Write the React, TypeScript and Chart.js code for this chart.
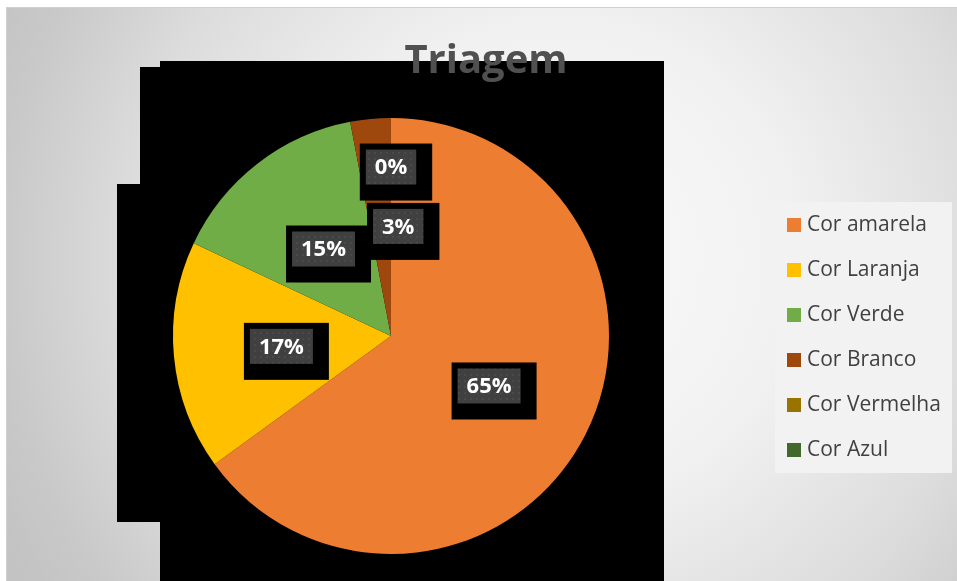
import React, { useEffect, useRef } from "react";
import { Chart, registerables } from "chart.js";

Chart.register(...registerables);

const chartTitle = "Triagem";
const categories = ["Cor amarela", "Cor Laranja", "Cor Verde", "Cor Branco", "Cor Vermelha", "Cor Azul"];
const shares = [65, 17, 15, 3, 0, 0];
const sliceColors = ["#ED7D31", "#FFC000", "#70AD47", "#9E480E", "#997300", "#43682B"];

// decorative black shadow artifact behind the plot (outline in canvas px)
const shadowOutline: [number, number][] = [
  [160, 61], [664, 61], [664, 581], [160, 581], [160, 522], [117, 522],
  [117, 184], [140, 184], [140, 67], [160, 67],
];

const FONT = '"Open Sans", "DejaVu Sans", sans-serif';

function makeDotPattern(ctx: CanvasRenderingContext2D) {
  const c = document.createElement("canvas");
  c.width = 6;
  c.height = 6;
  const p = c.getContext("2d")!;
  p.fillStyle = "#404040";
  p.fillRect(0, 0, 6, 6);
  p.fillStyle = "#4a4a4a";
  p.fillRect(2, 2, 2, 2);
  return ctx.createPattern(c, "repeat") || "#404040";
}

const backdropPlugin = {
  id: "backdrop",
  beforeDraw(chart: any) {
    const ctx: CanvasRenderingContext2D = chart.ctx;
    const W = chart.width;
    const H = chart.height;
    ctx.save();
    ctx.fillStyle = "#ffffff";
    ctx.fillRect(0, 0, W, H);
    const g = ctx.createRadialGradient(560, 260, 0, 560, 260, 620);
    g.addColorStop(0, "#fafafa");
    g.addColorStop(0.38, "#f1f1f1");
    g.addColorStop(0.7, "#dcdcdc");
    g.addColorStop(0.9, "#c9c9c9");
    g.addColorStop(1, "#c3c3c3");
    ctx.fillStyle = g;
    ctx.fillRect(6, 7, W - 6, H - 7);
    ctx.strokeStyle = "#d0d0d0";
    ctx.lineWidth = 1;
    ctx.beginPath();
    ctx.moveTo(6.5, H);
    ctx.lineTo(6.5, 7.5);
    ctx.lineTo(W, 7.5);
    ctx.stroke();

    ctx.fillStyle = "#000000";
    ctx.beginPath();
    shadowOutline.forEach(([x, y], i) => (i === 0 ? ctx.moveTo(x, y) : ctx.lineTo(x, y)));
    ctx.closePath();
    ctx.fill();

    // title
    ctx.font = `bold 40px ${FONT}`;
    ctx.fillStyle = "#505050";
    ctx.textAlign = "center";
    ctx.textBaseline = "alphabetic";
    ctx.fillText(chartTitle, 486, 73);

    // legend
    const lx = 775, ly = 202, lw = 177, lh = 271;
    ctx.fillStyle = "#f2f2f2";
    ctx.fillRect(lx, ly, lw, lh);
    ctx.font = `21px ${FONT}`;
    ctx.textAlign = "left";
    ctx.textBaseline = "middle";
    const labels: string[] = chart.data.labels;
    const colors: string[] = chart.data.datasets[0].backgroundColor;
    labels.forEach((lab, i) => {
      const cy = 225 + i * 45;
      ctx.fillStyle = colors[i];
      ctx.fillRect(787, cy - 7, 14, 14);
      ctx.fillStyle = "#404040";
      ctx.fillText(lab, 807, cy);
    });
    ctx.restore();
  },
};

const labelPlugin = {
  id: "pctLabels",
  afterDatasetsDraw(chart: any) {
    const ctx: CanvasRenderingContext2D = chart.ctx;
    const meta = chart.getDatasetMeta(0);
    const data: number[] = chart.data.datasets[0].data;
    const total = data.reduce((a, b) => a + b, 0);
    const pattern = makeDotPattern(ctx);
    const placed: any[] = [];
    let zeroShown = false;
    ctx.save();
    ctx.font = `bold 22px ${FONT}`;
    ctx.textAlign = "center";
    ctx.textBaseline = "middle";
    meta.data.forEach((arc: any, i: number) => {
      const v = data[i];
      if (v === 0) {
        if (zeroShown) return;
        zeroShown = true;
      }
      const { x, y, startAngle, endAngle, outerRadius } = arc.getProps(
        ["x", "y", "startAngle", "endAngle", "outerRadius"],
        true
      );
      const mid = (startAngle + endAngle) / 2;
      const r = v === 0 ? 0.775 * outerRadius : 0.505 * outerRadius;
      let cx = x + r * Math.cos(mid);
      const cy = y + r * Math.sin(mid);
      const text = `${Math.round((v / total) * 100)}%`;
      const tw = ctx.measureText(text).width;
      const bw = tw + 18;
      const bh = 35;
      const gy0 = cy - bh / 2;
      const gy1 = cy + bh / 2;
      for (const p of placed) {
        const gx0 = cx - bw / 2;
        const gx1 = cx + bw / 2;
        const vOverlap = gy1 > p.by0 && gy0 < p.by1;
        const hOverlap = gx1 > p.bx0 && gx0 < p.bx1;
        if (vOverlap && hOverlap) {
          if (cx >= p.cx) cx = p.bx1 + 2 + bw / 2;
          else cx = p.bx0 - 2 - bw / 2;
        }
      }
      const gx0 = cx - bw / 2;
      const box = {
        cx,
        bx0: gx0 - 6,
        by0: gy0 - 6,
        bx1: gx0 + bw + 16,
        by1: gy1 + 16,
      };
      placed.push(box);
      ctx.fillStyle = "#000000";
      ctx.fillRect(box.bx0, box.by0, box.bx1 - box.bx0, box.by1 - box.by0);
      ctx.fillStyle = pattern as any;
      ctx.fillRect(gx0, gy0, bw, bh);
      ctx.fillStyle = "#ffffff";
      ctx.fillText(text, cx, cy + 1);
    });
    ctx.restore();
  },
};

export default function App() {
  const canvasRef = useRef<HTMLCanvasElement | null>(null);

  useEffect(() => {
    let chart: Chart | null = null;
    let cancelled = false;
    const build = () => {
      if (cancelled || !canvasRef.current) return;
      chart = new Chart(canvasRef.current, {
        type: "pie",
        data: {
          labels: categories,
          datasets: [
            {
              data: shares,
              backgroundColor: sliceColors,
              borderWidth: 0,
              hoverOffset: 0,
              offset: 0,
            },
          ],
        },
        options: {
          responsive: false,
          animation: false,
          devicePixelRatio: 1,
          events: [],
          layout: { padding: { top: 118, bottom: 27, left: 173, right: 348 } },
          plugins: {
            legend: { display: false },
            title: { display: false },
            tooltip: { enabled: false },
          },
        },
        plugins: [backdropPlugin, labelPlugin],
      } as any);
    };
    const fonts: any = (document as any).fonts;
    if (fonts && fonts.load) {
      Promise.all([
        fonts.load(`bold 40px "Open Sans"`),
        fonts.load(`21px "Open Sans"`),
      ])
        .catch(() => null)
        .then(build);
    } else {
      build();
    }
    return () => {
      cancelled = true;
      if (chart) chart.destroy();
    };
  }, []);

  return (
    <div style={{ position: "fixed", left: 0, top: 0, width: 957, height: 581 }}>
      <canvas ref={canvasRef} width={957} height={581} style={{ display: "block" }} />
    </div>
  );
}
